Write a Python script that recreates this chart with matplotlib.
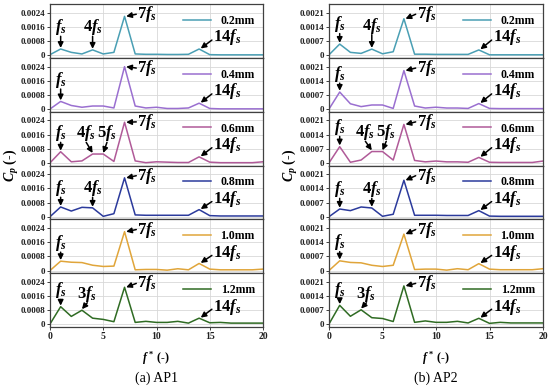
import numpy as np
import matplotlib
matplotlib.use("Agg")
import matplotlib.pyplot as plt

plt.rcParams['font.family'] = ['Liberation Serif', 'DejaVu Serif']
plt.rcParams['mathtext.fontset'] = 'custom'
plt.rcParams['mathtext.it'] = 'Liberation Serif:bold:italic'
plt.rcParams['mathtext.rm'] = 'Liberation Serif:bold'
plt.rcParams['mathtext.bf'] = 'Liberation Serif:bold'

f_star = list(range(21))
gaps = ['0.2mm', '0.4mm', '0.6mm', '0.8mm', '1.0mm', '1.2mm']
colors = ['#4a9fb4', '#9a6fd0', '#b05a98', '#2b3a9c', '#e0a53a', '#2f6b23']

# AP1
ap1_02 = [0.00003, 0.00035, 0.00016, 0.00007, 0.00030, 0.00007, 0.00016, 0.00220, 0.00007, 0.00005,
          0.00005, 0.00004, 0.00004, 0.00005, 0.00035, 0.00003, 0.00002, 0.00002, 0.00002, 0.00002, 0.00002]
ap1_04 = [0.0, 0.00043, 0.00020, 0.00010, 0.00017, 0.00017, 0.00006, 0.00240, 0.00017, 0.00006,
          0.00010, 0.00003, 0.00003, 0.00006, 0.00033, 0.00003, 0.00001, 0.00001, 0.00001, 0.00001, 0.00001]
ap1_06 = [0.0, 0.00063, 0.00006, 0.00011, 0.00050, 0.00050, 0.00008, 0.00230, 0.00011, 0.00001,
          0.00006, 0.00004, 0.00002, 0.00002, 0.00034, 0.00004, 0.00001, 0.00001, 0.00001, 0.00001, 0.00006]
ap1_08 = [0.0, 0.00055, 0.00032, 0.00053, 0.00050, 0.00002, 0.00017, 0.00220, 0.00010, 0.00008,
          0.00008, 0.00008, 0.00008, 0.00008, 0.00040, 0.00006, 0.00004, 0.00004, 0.00004, 0.00004, 0.00004]
ap1_10 = [0.0, 0.00053, 0.00047, 0.00045, 0.00030, 0.00023, 0.00025, 0.00220, 0.00004, 0.00006,
          0.00006, 0.00002, 0.00010, 0.00004, 0.00040, 0.00008, 0.00004, 0.00004, 0.00004, 0.00004, 0.00008]
ap1_12 = [0.00002, 0.00100, 0.00045, 0.00080, 0.00035, 0.00028, 0.00015, 0.00210, 0.00011, 0.00017,
          0.00011, 0.00011, 0.00017, 0.00007, 0.00035, 0.00009, 0.00011, 0.00007, 0.00007, 0.00007, 0.00007]

# AP2
ap2_02 = [0.00002, 0.00055, 0.00014, 0.00009, 0.00030, 0.00007, 0.00017, 0.00180, 0.00005, 0.00005,
          0.00004, 0.00004, 0.00004, 0.00004, 0.00026, 0.00002, 0.00002, 0.00002, 0.00002, 0.00002, 0.00002]
ap2_04 = [0.0, 0.00084, 0.00026, 0.00012, 0.00020, 0.00020, 0.00003, 0.00190, 0.00015, 0.00005,
          0.00009, 0.00005, 0.00005, 0.00003, 0.00027, 0.00003, 0.00002, 0.00002, 0.00002, 0.00002, 0.00002]
ap2_06 = [0.0, 0.00080, 0.00003, 0.00014, 0.00056, 0.00056, 0.00014, 0.00190, 0.00012, 0.00005,
          0.00009, 0.00005, 0.00005, 0.00003, 0.00027, 0.00003, 0.00002, 0.00002, 0.00002, 0.00002, 0.00009]
ap2_08 = [0.0, 0.00038, 0.00030, 0.00048, 0.00043, 0.00002, 0.00012, 0.00180, 0.00007, 0.00007,
          0.00007, 0.00006, 0.00006, 0.00006, 0.00030, 0.00003, 0.00002, 0.00002, 0.00002, 0.00002, 0.00002]
ap2_10 = [0.0, 0.00048, 0.00040, 0.00038, 0.00026, 0.00020, 0.00026, 0.00180, 0.00005, 0.00007,
          0.00007, 0.00002, 0.00009, 0.00004, 0.00034, 0.00007, 0.00004, 0.00004, 0.00004, 0.00004, 0.00009]
ap2_12 = [0.00002, 0.00094, 0.00040, 0.00072, 0.00033, 0.00029, 0.00014, 0.00190, 0.00010, 0.00017,
          0.00010, 0.00010, 0.00015, 0.00007, 0.00030, 0.00005, 0.00010, 0.00007, 0.00007, 0.00007, 0.00007]

ap1 = [ap1_02, ap1_04, ap1_06, ap1_08, ap1_10, ap1_12]
ap2 = [ap2_02, ap2_04, ap2_06, ap2_08, ap2_10, ap2_12]

ap1_ticks = [0, 0.0008, 0.0016, 0.0024]
ap1_ticklabels = ['0', '0.0008', '0.0016', '0.0024']
ap2_ticks = [0, 0.0007, 0.0014, 0.0021]
ap2_ticklabels = ['0', '0.0007', '0.0014', '0.0021']
x_ticks = [0, 5, 10, 15, 20]

F1 = r'$f_s$'
F3 = r'$\mathrm{3}f_s$'
F4 = r'$\mathrm{4}f_s$'
F5 = r'$\mathrm{5}f_s$'
F7 = r'$\mathrm{7}f_s$'
F14 = r'$\mathrm{14}f_s$'

# vertical-arrow labels per panel: (label, harmonic, text x, text y as axes fraction)
ap1_labels = [
    [(F1, 1, 1.0, 0.57), (F4, 4, 4.0, 0.57)],
    [(F1, 1, 1.0, 0.59)],
    [(F1, 1, 1.0, 0.60), (F4, 4, 3.4, 0.60), (F5, 5, 5.35, 0.60)],
    [(F1, 1, 1.0, 0.58), (F4, 4, 4.0, 0.58)],
    [(F1, 1, 1.0, 0.56)],
    [(F1, 1, 1.0, 0.68), (F3, 3, 3.5, 0.62)],
]
ap2_labels = [
    [(F1, 1, 1.0, 0.62), (F4, 4, 4.0, 0.60)],
    [(F1, 1, 1.0, 0.70)],
    [(F1, 1, 1.0, 0.71), (F4, 4, 3.4, 0.62), (F5, 5, 5.35, 0.62)],
    [(F1, 1, 1.0, 0.56), (F4, 4, 4.0, 0.56)],
    [(F1, 1, 1.0, 0.57)],
    [(F1, 1, 1.0, 0.68), (F3, 3, 3.5, 0.62)],
]

fig = plt.figure(figsize=(5.5, 3.9), dpi=100)

top = 1 - 4 / 390
bottom = 1 - 327 / 390
ph = (top - bottom) / 6
ARROW = dict(arrowstyle='-|>', color='black', lw=1.1, mutation_scale=8, shrinkA=0, shrinkB=0)
LABEL_FS = 12


def draw_panel(left, right, data, labels, ticks, ticklabels, ylim, caption):
    for i in range(6):
        ax = fig.add_axes([left, top - (i + 1) * ph, right - left, ph])
        ax.plot(f_star, data[i], color=colors[i], lw=1.1, label=gaps[i])
        ax.set_xlim(0, 20)
        ax.set_ylim(*ylim)
        ax.set_xticks(x_ticks)
        ax.set_yticks(ticks)
        ax.set_yticklabels(ticklabels, fontsize=6.5, fontweight='bold')
        ax.grid(True, color='#d8d8d8', lw=0.6)
        ax.set_axisbelow(True)
        for s in ax.spines.values():
            s.set_color('#404040')
            s.set_linewidth(0.9)
        ax.tick_params(axis='both', length=2, width=0.6, pad=1.5, colors='#202020')
        if i < 5:
            ax.tick_params(axis='x', labelbottom=False)
        else:
            ax.set_xticklabels([str(t) for t in x_ticks], fontsize=7, fontweight='bold')
        ax.legend(loc='upper right', frameon=False, prop={'weight': 'bold', 'size': 8.5},
                  handlelength=2.4, borderaxespad=0.3, bbox_to_anchor=(1.0, 0.95))
        tr = ax.get_xaxis_transform()
        for lab, h, tx, ty in labels[i]:
            ax.annotate('', xy=(h, data[i][h] + 0.00006), xycoords='data',
                        xytext=(tx, ty - 0.17), textcoords=('data', 'axes fraction'),
                        arrowprops=ARROW)
            ax.text(tx, ty, lab, transform=tr, ha='center', va='center', fontsize=LABEL_FS)
        # 7 f_s label
        ax.annotate('', xy=(7.15, data[i][7]), xycoords='data',
                    xytext=(8.1, 0.81), textcoords=('data', 'axes fraction'), arrowprops=ARROW)
        ax.text(8.2, 0.81, F7, transform=tr, ha='left', va='center', fontsize=LABEL_FS)
        # 14 f_s label
        ax.annotate('', xy=(14.15, data[i][14] + 0.00003), xycoords='data',
                    xytext=(15.2, 0.33), textcoords=('data', 'axes fraction'), arrowprops=ARROW)
        ax.text(15.3, 0.38, F14, transform=tr, ha='left', va='center', fontsize=LABEL_FS)
    cx = (left + right) / 2
    fig.text(cx, 1 - 358 / 390, r'$f^*$ (-)', ha='center', va='center', fontsize=8.5,
             fontweight='bold')
    fig.text(cx, 1 - 378 / 390, caption, ha='center', va='center', fontsize=10)
    fig.text(left - 0.07, (top + bottom) / 2, r'$C_p$ (-)', rotation=90, ha='center',
             va='center', fontsize=10, fontweight='bold')


draw_panel(50 / 550, 263 / 550, ap1, ap1_labels, ap1_ticks, ap1_ticklabels,
           (-0.00015, 0.0029), '(a) AP1')
draw_panel(329 / 550, 543 / 550, ap2, ap2_labels, ap2_ticks, ap2_ticklabels,
           (-0.00013, 0.00253), '(b) AP2')

fig.savefig('out.png', dpi=100)
